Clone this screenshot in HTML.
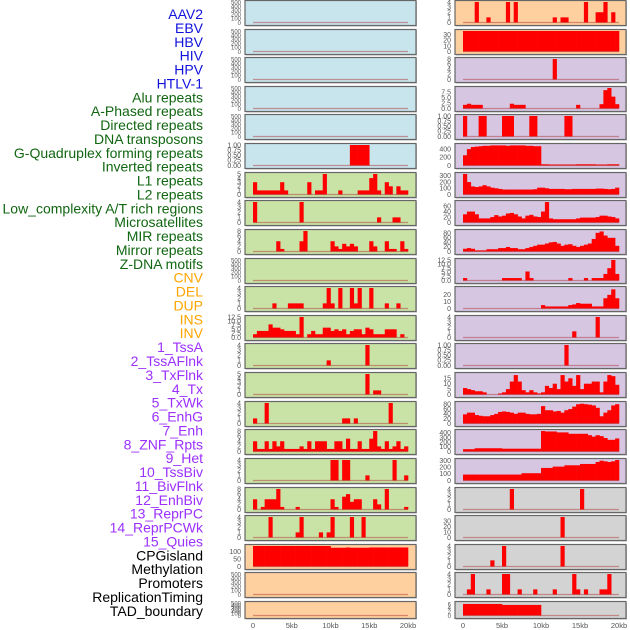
<!DOCTYPE html>
<html><head><meta charset="utf-8">
<style>
html,body{margin:0;padding:0;background:#fff;}
svg{display:block;font-family:"Liberation Sans",sans-serif;}
</style></head>
<body>
<svg id="chart" width="630" height="630" viewBox="0 0 630 630" xmlns="http://www.w3.org/2000/svg"></svg>
<script>
const trackLabels = ["AAV2","EBV","HBV","HIV","HPV","HTLV-1","Alu repeats","A-Phased repeats","Directed repeats","DNA transposons","G-Quadruplex forming repeats","Inverted repeats","L1 repeats","L2 repeats","Low_complexity A/T rich regions","Microsatellites","MIR repeats","Mirror repeats","Z-DNA motifs","CNV","DEL","DUP","INS","INV","1_TssA","2_TssAFlnk","3_TxFlnk","4_Tx","5_TxWk","6_EnhG","7_Enh","8_ZNF_Rpts","9_Het","10_TssBiv","11_BivFlnk","12_EnhBiv","13_ReprPC","14_ReprPCWk","15_Quies","CPGisland","Methylation","Promoters","ReplicationTiming","TAD_boundary"];
const labelColors = ["#1111dd","#1111dd","#1111dd","#1111dd","#1111dd","#1111dd","#116611","#116611","#116611","#116611","#116611","#116611","#116611","#116611","#116611","#116611","#116611","#116611","#116611","#ffa500","#ffa500","#ffa500","#ffa500","#ffa500","#9b30ff","#9b30ff","#9b30ff","#9b30ff","#9b30ff","#9b30ff","#9b30ff","#9b30ff","#9b30ff","#9b30ff","#9b30ff","#9b30ff","#9b30ff","#9b30ff","#9b30ff","#000","#000","#000","#000","#000"];
const xTickLabels = ["0","5kb","10kb","15kb","20kb"];
const xTickValues = [0,5,10,15,20];
const T500=[0,100,200,300,400,500], T1=[0,0.25,0.5,0.75,1], T4=[0,1,2,3,4], T5=[0,1,2,3,4,5], T8=[0,2,4,6,8], T125=[0,2.5,5,7.5,10,12.5];
const E=new Array(40).fill(0);
function sp(pairs){const a=new Array(40).fill(0);for(const [i,v] of pairs)a[i]=v;return a;}
const leftBg=["#c8e4ec","#c8e4ec","#c8e4ec","#c8e4ec","#c8e4ec","#c8e4ec","#c9e2a6","#c9e2a6","#c9e2a6","#c9e2a6","#c9e2a6","#c9e2a6","#c9e2a6","#c9e2a6","#c9e2a6","#c9e2a6","#c9e2a6","#c9e2a6","#c9e2a6","#fecf9f","#fecf9f","#fecf9f"];
const leftMax=[500,500,500,500,500,1,5,4,8,500,4,12.5,4,5,4,8,4,8,4,140,500,500];
const leftTicks=[T500,T500,T500,T500,T500,T1,T5,T4,T8,T500,T4,T125,T4,T5,T4,T8,T4,T8,T4,[0,50,100],T500,T500];
const L5=sp([[25,1],[26,1],[27,1],[28,1],[29,1]]);
const L6=[3,1,1,1,1,1,1,3,1,0,0,0,0,0,3,0,1,1,5,0,0,0,1,0,0,0,0,1,1,1,4,5,1,0,3,2,0,2,1,1];
const L7=sp([[0,4],[12,4],[32,1],[36,1],[37,1]]);
const L8=sp([[6,4],[7,1],[12,4],[13,8],[20,4],[21,2],[22,1],[23,3],[24,2],[25,3],[26,2],[30,4],[31,2],[34,4],[35,1],[36,1],[38,4],[39,1]]);
const L10=sp([[5,1],[9,1],[10,1],[11,1],[12,1],[18,1],[19,4],[20,1],[22,4],[25,4],[26,1],[27,4],[30,4],[34,1],[37,1]]);
const L11=[2,4,4,4,8,6,6,5,4,4,4,2,12.5,0,2,4,2,2,6,6,4,5,4,5,2,4,5,5,2,6,5,2,2,2,5,5,5,0,2,0];
const L12=sp([[19,1],[29,4]]);
const L13=sp([[29,5],[31,1],[32,1]]);
const L14=sp([[0,1],[3,4],[23,1],[24,1],[26,1],[35,4]]);
const L15=[4,1,1,4,1,4,2,4,1,1,1,1,2,1,4,1,4,4,4,1,1,4,4,1,5,1,1,4,1,1,5,8,2,1,4,1,2,4,1,2];
const L16=sp([[20,4],[21,4],[23,4],[24,4],[29,1],[36,4],[39,1]]);
const L17=sp([[0,4],[2,1],[3,4],[4,4],[5,4],[6,8],[7,1],[11,1],[20,4],[21,1],[23,5],[24,6],[25,3],[26,4],[27,4],[31,4],[32,2],[34,8],[39,1]]);
const L18=sp([[4,4],[11,1],[12,4],[17,1],[19,1],[20,4],[25,4],[28,4]]);
const L19=[140,140,140,140,140,140,140,140,140,140,140,140,140,140,140,140,140,140,140,140,128,128,128,128,130,128,128,128,128,128,130,130,130,130,130,130,130,130,130,130];
const leftVals=[E,E,E,E,E,L5,L6,L7,L8,E,L10,L11,L12,L13,L14,L15,L16,L17,L18,L19,E,E];
const rightBg=["#fecf9f","#fecf9f","#d6c6e2","#d6c6e2","#d6c6e2","#d6c6e2","#d6c6e2","#d6c6e2","#d6c6e2","#d6c6e2","#d6c6e2","#d6c6e2","#d6c6e2","#d6c6e2","#d6c6e2","#d6c6e2","#d6c6e2","#d3d3d3","#d3d3d3","#d3d3d3","#d3d3d3","#d3d3d3"];
const rightMax=[4,37,8,9.5,1,500,330,75,90,12.5,30,4,1,19,85,440,310,4,38,4,4,6.5];
const rightTicks=[T4,[0,10,20,30],T8,[0,2.5,5,7.5],T1,[0,200,400],[0,100,200,300],[0,20,40,60],[0,20,40,60,80],T125,[0,10,20],T4,T1,[0,5,10,15],[0,20,40,60,80],[0,100,200,300,400],[0,100,200,300],T4,[0,10,20,30],T4,T4,[0,2,4,6]];
const R0=sp([[3,4],[6,1],[11,4],[13,4],[23,1],[25,1],[26,1],[31,4],[34,2],[35,2],[36,4],[38,2]]);
const R1=new Array(40).fill(37);
const R2=sp([[23,8]]);
const R3=sp([[0,1.7],[1,2.2],[2,1.7],[3,1.7],[4,1.7],[12,2.2],[13,1.7],[14,1.7],[15,1.7],[29,1.7],[35,2],[36,8.5],[37,9.5],[38,5.5],[39,2]]);
const R4=sp([[0,1],[4,1],[5,1],[10,1],[11,1],[12,1],[17,1],[18,1],[26,1],[27,1]]);
const R5=[250,400,450,460,470,480,480,490,490,490,490,480,490,490,490,490,480,480,470,470,30,30,25,25,25,25,25,25,25,30,30,30,30,30,25,25,25,30,30,30];
const R6=[330,200,130,120,130,150,130,110,100,90,80,80,80,80,80,80,80,80,85,110,110,100,90,90,90,90,85,85,90,90,90,90,90,90,95,95,90,85,90,110];
const R7=[30,40,40,30,15,15,15,20,27,22,25,33,35,30,22,15,25,28,22,20,40,75,15,12,12,12,12,12,12,15,18,18,18,18,20,25,25,22,20,15];
const R8=[12,15,12,5,5,5,10,10,10,15,15,20,15,15,10,10,15,20,25,30,30,35,40,42,35,25,30,32,25,20,25,30,35,55,82,88,70,60,60,25];
const R9=sp([[0,1.5],[10,1.5],[11,1.5],[12,1.5],[13,1.5],[14,1.5],[16,5.5],[17,1.5],[27,1.5],[31,1.5],[33,1.5],[34,1.5],[35,1.5],[36,4],[37,7.5],[38,12.5],[39,4]]);
const R10=sp([[20,5],[21,3],[22,3],[23,3],[24,3],[25,3],[26,3],[27,5],[28,6],[29,8],[30,7],[31,7],[32,7],[33,3],[34,3],[35,3],[36,15],[37,20],[38,28],[39,15]]);
const R11=sp([[28,1.2],[34,4]]);
const R12=sp([[26,1]]);
const R13=[6,5,4,3,3,2,0,0,0,1,2,5,12,18,12,4,2,4,2,1,2,8,6,10,5,18,12,15,8,18,5,10,10,12,12,2,12,18,17,9];
const R14=[38,45,45,35,32,30,30,35,40,48,50,48,45,40,45,45,40,38,38,40,72,55,55,50,52,45,55,60,70,80,82,80,78,75,65,30,45,55,75,80];
const R15=[50,50,50,70,70,70,70,70,70,70,60,60,60,60,60,60,60,60,60,60,440,430,430,430,410,410,410,380,380,380,380,380,350,320,350,330,290,250,250,280];
const R16=[90,90,90,90,90,90,90,90,90,90,90,90,90,90,90,110,110,110,110,110,190,190,190,210,210,210,230,230,230,230,250,250,250,250,280,300,290,280,290,310];
const R17=sp([[12,4],[30,4]]);
const R18=sp([[25,38]]);
const R19=sp([[7,1.2],[10,4],[25,4]]);
const R20=sp([[1,1],[2,4],[6,1],[10,4],[11,4],[14,1],[18,1],[23,1],[28,4],[29,1],[31,1],[35,1],[36,1],[37,4]]);
const R21=[6,6,6,6,6,6,6,6,6,6,5.5,5.5,5.5,5.5,5.5,5.5,5.5,5.5,5.5,5.5,0,0,0,0,0,0,0,0,0,0,0,0,0,0,0,0,0,0,0,0];
const rightVals=[R0,R1,R2,R3,R4,R5,R6,R7,R8,R9,R10,R11,R12,R13,R14,R15,R16,R17,R18,R19,R20,R21];

const NS="http://www.w3.org/2000/svg";
const svg=document.getElementById('chart');
function mk(tag,attrs,parent){const e=document.createElementNS(NS,tag);for(const k in attrs)e.setAttribute(k,attrs[k]);(parent||svg).appendChild(e);return e;}

trackLabels.forEach((t,i)=>{
  const e=mk('text',{x:203,y:14+i*13.88+5,'text-anchor':'end','font-size':14,fill:labelColors[i]});
  e.textContent=t;
  
  
});

const cols=[{x0:245,x1:416,d0:253,d1:408,bg:leftBg,max:leftMax,ticks:leftTicks,vals:leftVals,tx:241,name:'left'},
            {x0:455,x1:626,d0:463,d1:619,bg:rightBg,max:rightMax,ticks:rightTicks,vals:rightVals,tx:451,name:'right'}];
function fmt(v,ticks){const dec=ticks.some(t=>t%1!==0)?(ticks.some(t=>(t*10)%1!==0)?2:1):0;return v.toFixed(dec);}
cols.forEach(c=>{
  const xs=kb=>c.d0+(kb/20)*(c.d1-c.d0);
  for(let k=0;k<22;k++){
    const top=Math.round(28.62*k)+0.5, h=(k===21?17:25);
    const g=mk('g',{});
    
    
    mk('rect',{x:c.x0+1,y:top+1,width:c.x1-c.x0,height:h,fill:'#bbb'},g);
    mk('rect',{x:c.x0,y:top,width:c.x1-c.x0,height:h,fill:c.bg[k],stroke:'#666','stroke-width':1.2},g);
    const y0=top+h-3, yt=top+1.5, mx=c.max[k];
    const ys=v=>y0-(v/mx)*(y0-yt);
    c.ticks[k].forEach(t=>{
      const tt=mk('text',{x:c.tx,y:ys(t)+2.3,'text-anchor':'end','font-size':(k===21||c.ticks[k].length>5&&c.ticks[k][5]>100?6:7),fill:'#555'},g);
      tt.textContent=fmt(t,c.ticks[k]);
      
      
    });
    const bw=(c.d1-c.d0)/40;
    c.vals[k].forEach((v,i)=>{
      if(v<=0)return;
      const r=mk('rect',{x:xs(i*0.5),y:ys(v),width:bw+0.3,height:y0-ys(v),fill:'#ff0000'},g);
      
      
    });
    mk('line',{x1:c.d0,x2:c.d1,y1:y0,y2:y0,stroke:'rgba(170,40,40,0.45)','stroke-width':1.3},g);
  }
  xTickValues.forEach((v,i)=>{
    const t=mk('text',{x:xs(v),y:628,'text-anchor':'middle','font-size':7.5,fill:'#555'});
    t.textContent=xTickLabels[i];
    
    
  });
});
</script>
</body></html>
